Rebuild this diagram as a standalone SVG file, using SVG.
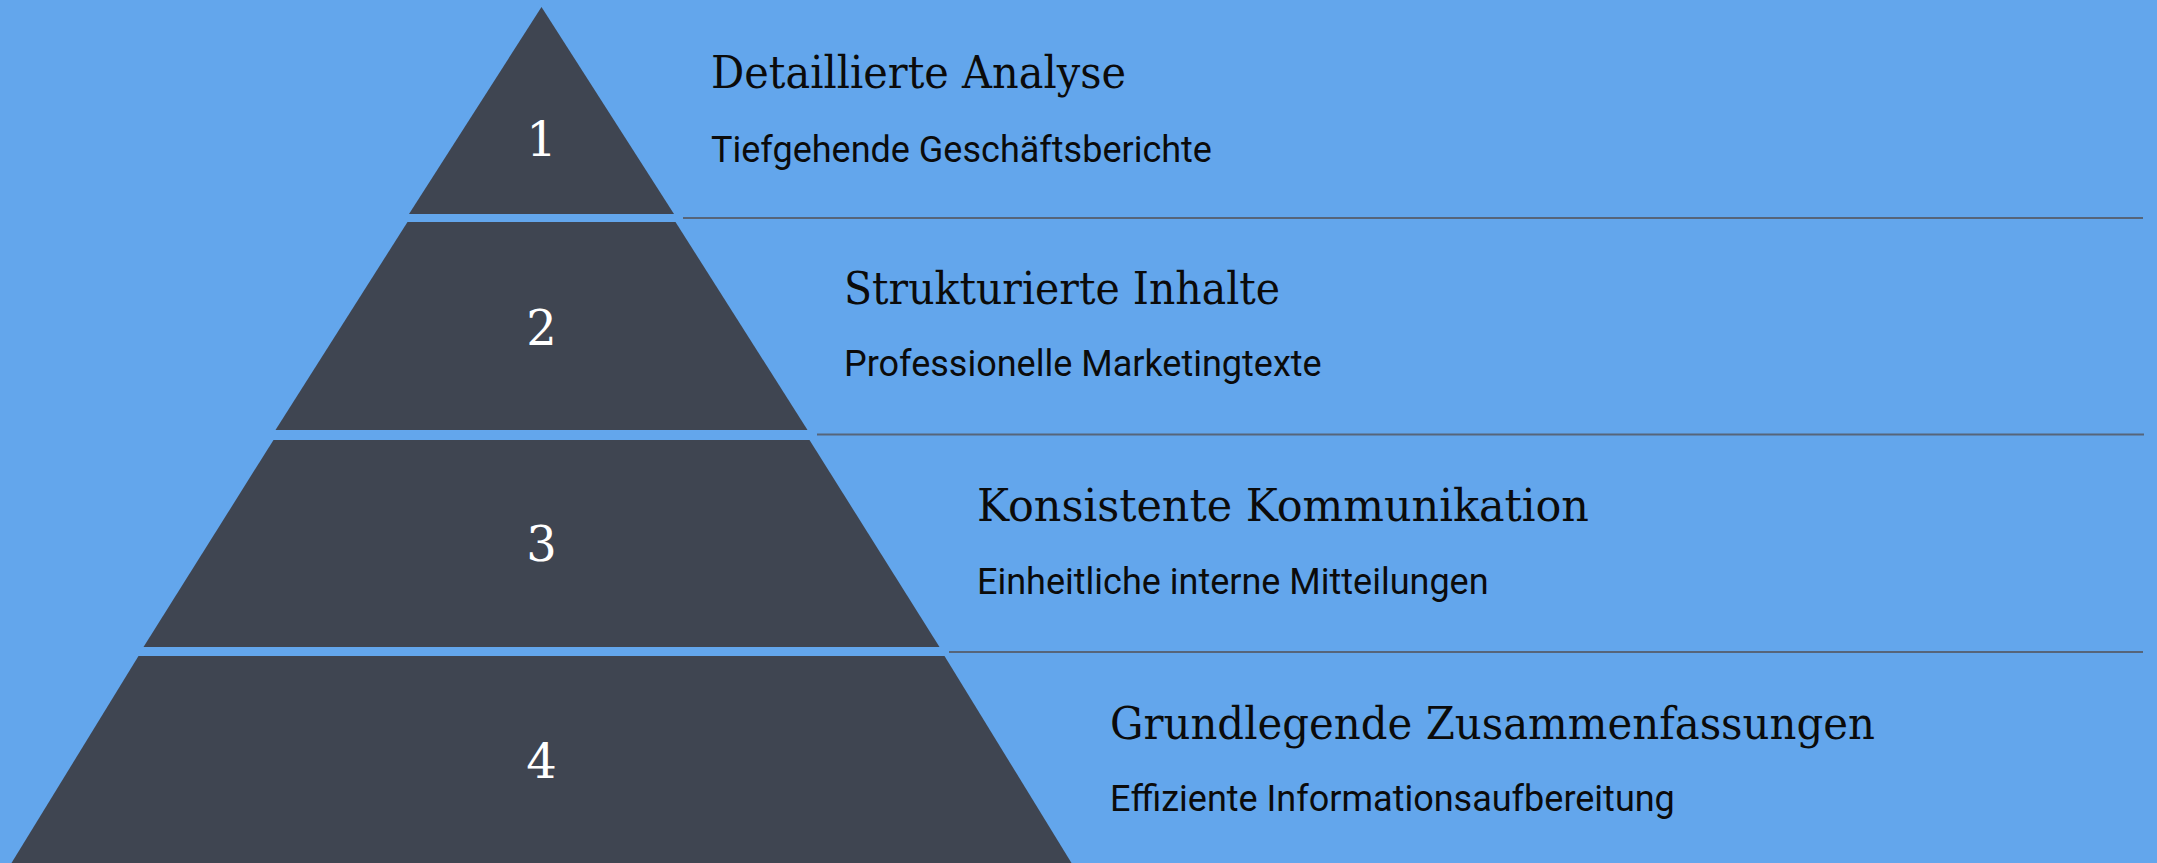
<svg xmlns="http://www.w3.org/2000/svg" width="2157" height="863" viewBox="0 0 2157 863">
  <style>
    .tier { fill: #3F4551; }
    .num { font-family: "DejaVu Serif", "Liberation Serif", serif; font-size: 48px; fill: #FFFFFF; text-anchor: middle; }
    .title { font-family: "DejaVu Serif", "Liberation Serif", serif; font-size: 44px; fill: #0B0B0B; }
    .sub { font-family: Roboto, "Liberation Sans", sans-serif; font-size: 36px; fill: #0B0B0B; }
    .sep { stroke: #56657A; stroke-width: 2; fill: none; }
  </style>
  <rect x="0" y="0" width="2157" height="863" fill="#63A6EC"/>
  <g id="connectors">
    <line class="sep" x1="683" y1="218" x2="2143" y2="218"/>
    <line class="sep" x1="817" y1="434.5" x2="2144" y2="434.5"/>
    <line class="sep" x1="949" y1="652" x2="2143" y2="652"/>
  </g>
  <g id="tier1">
    <polygon class="tier" points="541.5,7 674,214 409,214"/>
    <text class="num" x="541.5" y="156">1</text>
    <text class="title" x="711" y="87.5" textLength="415" lengthAdjust="spacingAndGlyphs">Detaillierte Analyse</text>
    <text class="sub" x="711" y="161.5">Tiefgehende Geschäftsberichte</text>
  </g>
  <g id="tier2">
    <polygon class="tier" points="407.5,222 675.5,222 807.5,430 275.5,430"/>
    <text class="num" x="541.5" y="345">2</text>
    <text class="title" x="844" y="303.5" textLength="436" lengthAdjust="spacingAndGlyphs">Strukturierte Inhalte</text>
    <text class="sub" x="844" y="376">Professionelle Marketingtexte</text>
  </g>
  <g id="tier3">
    <polygon class="tier" points="273.5,440 809.5,440 939.5,647 143.5,647"/>
    <text class="num" x="541.5" y="561">3</text>
    <text class="title" x="977" y="521" textLength="612" lengthAdjust="spacingAndGlyphs">Konsistente Kommunikation</text>
    <text class="sub" x="977" y="593.5">Einheitliche interne Mitteilungen</text>
  </g>
  <g id="tier4">
    <polygon class="tier" points="138.5,656 944.5,656 1071.5,863 11.5,863"/>
    <text class="num" x="541.5" y="778">4</text>
    <text class="title" x="1110" y="739" textLength="765" lengthAdjust="spacingAndGlyphs">Grundlegende Zusammenfassungen</text>
    <text class="sub" x="1110" y="810.5">Effiziente Informationsaufbereitung</text>
  </g>
</svg>
